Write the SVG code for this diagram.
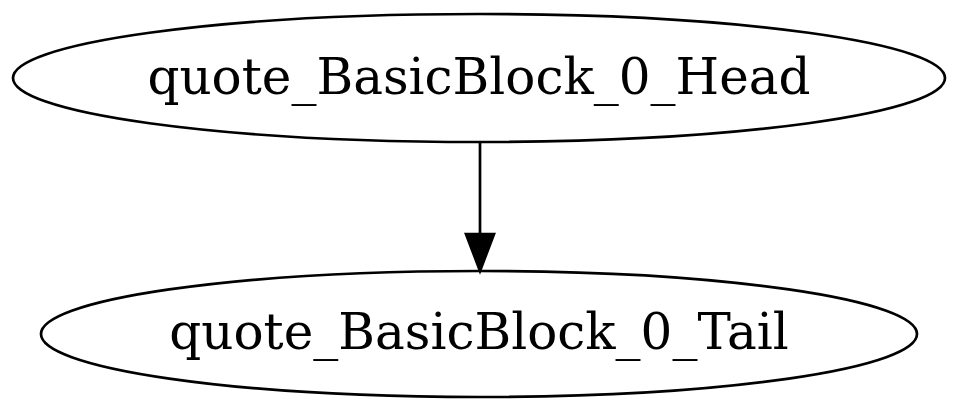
<svg xmlns="http://www.w3.org/2000/svg" width="960" height="414" viewBox="0 0 960 414">
<style>
.node ellipse{fill:none;stroke:#000;stroke-width:2.7}
.node text{font-family:"DejaVu Serif",serif;font-size:50px;fill:#000;text-anchor:middle}
.edge path{stroke:#000;stroke-width:2.7;fill:none}
.edge polygon{fill:#000;stroke:#000;stroke-width:2.7}
</style>
<rect width="960" height="414" fill="#fff"/>
<g id="head" class="node">
<ellipse cx="479" cy="78" rx="466" ry="64"/>
<text x="479" y="94">quote_BasicBlock_0_Head</text>
</g>
<g id="tail" class="node">
<ellipse cx="479" cy="334" rx="438" ry="63"/>
<text x="479" y="349">quote_BasicBlock_0_Tail</text>
</g>
<g id="edges" class="edge">
<path d="M480,142 L480,234"/>
<polygon points="466,234 494,234 480,271"/>
</g>
</svg>
